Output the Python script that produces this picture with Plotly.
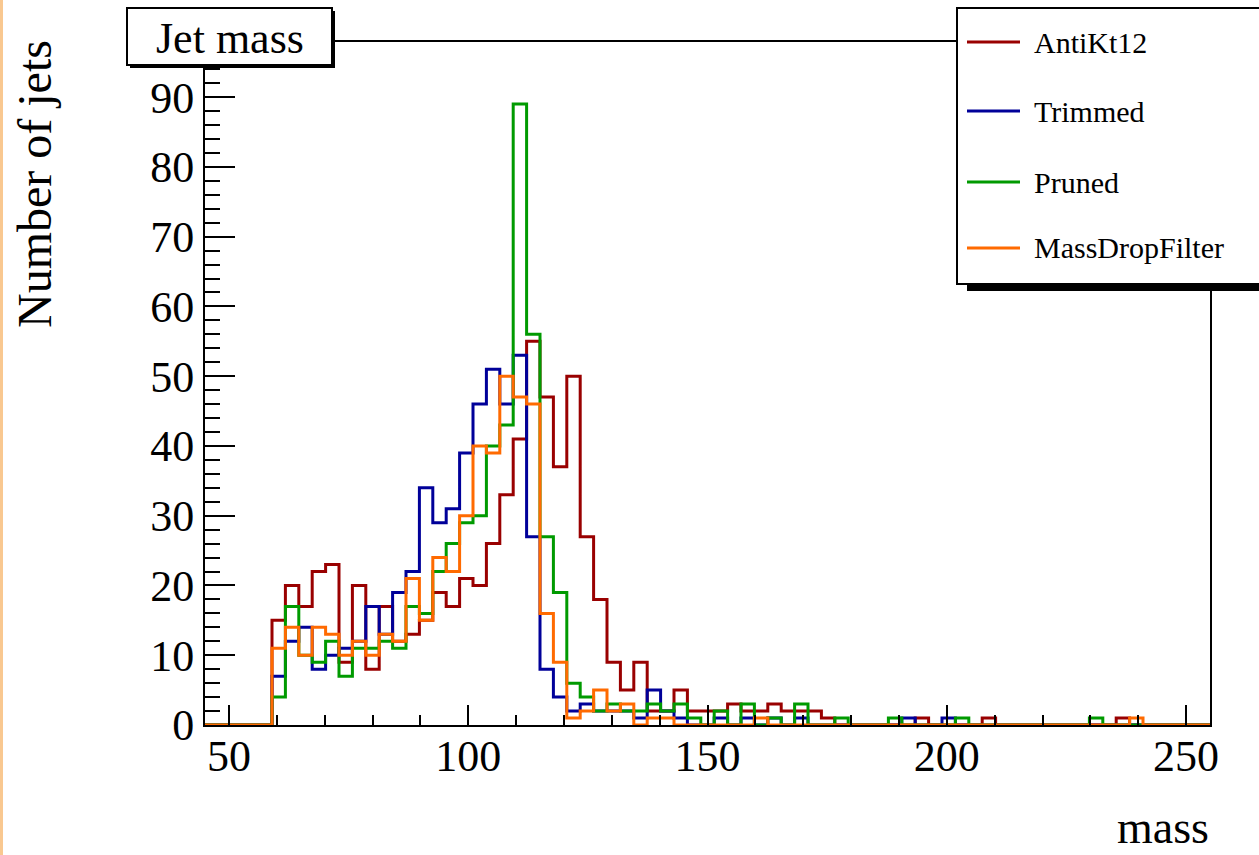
import numpy as np
import plotly.graph_objects as go

# ---------------- data ----------------
bin_lo, bin_hi, n_bins = 45.0, 255.0, 75

antikt12 = [0, 0, 0, 0, 0, 15, 20, 17, 22, 23, 9, 20, 8, 17, 12, 13, 15, 19, 17, 21,
            20, 26, 33, 41, 55, 47, 37, 50, 27, 18, 9, 5, 9, 2, 2, 5, 2, 2, 2, 3,
            2, 2, 3, 2, 2, 2, 1, 0, 0, 0, 0, 0, 0, 1, 0, 0, 0, 0, 1, 0,
            0, 0, 0, 0, 0, 0, 0, 0, 1, 0, 0, 0, 0, 0, 0]
trimmed = [0, 0, 0, 0, 0, 7, 12, 14, 8, 10, 11, 12, 17, 13, 19, 22, 34, 29, 31, 39,
           46, 51, 46, 53, 27, 8, 4, 2, 3, 2, 2, 2, 1, 5, 2, 1, 0, 0, 1, 0,
           1, 0, 1, 0, 1, 0, 0, 0, 0, 0, 0, 0, 1, 0, 0, 1, 0, 0, 0, 0,
           0, 0, 0, 0, 0, 0, 0, 0, 0, 0, 0, 0, 0, 0, 0]
pruned = [0, 0, 0, 0, 0, 4, 17, 10, 9, 12, 7, 11, 11, 12, 11, 17, 16, 22, 26, 29,
          30, 40, 43, 89, 56, 27, 19, 6, 4, 2, 3, 2, 2, 3, 2, 3, 1, 0, 2, 0,
          3, 0, 1, 0, 3, 0, 0, 1, 0, 0, 0, 1, 0, 0, 0, 0, 1, 0, 0, 0,
          0, 0, 0, 0, 0, 0, 1, 0, 0, 0, 0, 0, 0, 0, 0]
massdrop = [0, 0, 0, 0, 0, 11, 14, 10, 14, 13, 10, 12, 10, 13, 12, 21, 15, 24, 22, 30,
            40, 39, 50, 47, 46, 16, 9, 1, 2, 5, 2, 3, 0, 1, 1, 0, 0, 0, 0, 0,
            0, 1, 0, 0, 0, 0, 0, 0, 0, 0, 0, 0, 0, 0, 0, 0, 0, 0, 0, 0,
            0, 0, 0, 0, 0, 0, 0, 0, 0, 1, 0, 0, 0, 0, 0]

series_names = ["AntiKt12", "Trimmed", "Pruned", "MassDropFilter"]
series_values = [antikt12, trimmed, pruned, massdrop]
series_colors = ["#990000", "#000099", "#009a00", "#ff6a00"]

x_ticks = [50, 100, 150, 200, 250]
y_ticks = [0, 10, 20, 30, 40, 50, 60, 70, 80, 90]

# ---------------- layout geometry (pixels) ----------------
W, H = 1259, 855
L, R, T, B = 205, 1210, 42, 725
FONT = "Liberation Serif, Times New Roman, serif"


def xp(px):
    return (px - L) / (R - L)


def yp(py):
    return (B - py) / (B - T)


edges = np.linspace(bin_lo, bin_hi, n_bins + 1)

fig = go.Figure()
for name, vals, col in zip(series_names, series_values, series_colors):
    yv = list(vals) + [vals[-1]]
    fig.add_trace(go.Scatter(
        x=edges, y=yv, mode="lines", name=name,
        line=dict(color=col, width=3, shape="hv"),
        showlegend=False, hoverinfo="skip",
    ))

shapes = []
annotations = []

# left page edge strip
shapes.append(dict(type="rect", xref="paper", yref="paper",
                   x0=xp(0), x1=xp(3), y0=yp(0), y1=yp(H),
                   fillcolor="#f9c890", line=dict(width=0), layer="above"))

# title box with shadow
shapes.append(dict(type="rect", xref="paper", yref="paper",
                   x0=xp(130), x1=xp(335), y0=yp(11), y1=yp(68),
                   fillcolor="black", line=dict(width=0), layer="above"))
shapes.append(dict(type="rect", xref="paper", yref="paper",
                   x0=xp(127), x1=xp(332), y0=yp(8), y1=yp(65),
                   fillcolor="white", line=dict(color="black", width=2), layer="above"))
annotations.append(dict(text="Jet mass", xref="paper", yref="paper",
                        x=xp(229.5), y=yp(38), xanchor="center", yanchor="middle",
                        showarrow=False, font=dict(family=FONT, size=44, color="black")))

# legend box with shadow
shapes.append(dict(type="rect", xref="paper", yref="paper",
                   x0=xp(967), x1=xp(1275), y0=yp(16), y1=yp(291),
                   fillcolor="black", line=dict(width=0), layer="above"))
shapes.append(dict(type="rect", xref="paper", yref="paper",
                   x0=xp(957), x1=xp(1265), y0=yp(8), y1=yp(284),
                   fillcolor="white", line=dict(color="black", width=2), layer="above"))
leg_y = [42, 111, 182, 248]
for name, col, ly in zip(series_names, series_colors, leg_y):
    shapes.append(dict(type="line", xref="paper", yref="paper",
                       x0=xp(967), x1=xp(1020), y0=yp(ly), y1=yp(ly),
                       line=dict(color=col, width=3), layer="above"))
    annotations.append(dict(text=name, xref="paper", yref="paper",
                            x=xp(1032), y=yp(ly), xanchor="left", yanchor="middle",
                            showarrow=False, font=dict(family=FONT, size=30, color="black")))

# axis titles
annotations.append(dict(text="Number of jets", xref="paper", yref="paper",
                        x=xp(34), y=yp(38), xanchor="center", yanchor="top",
                        textangle=-90, showarrow=False,
                        font=dict(family=FONT, size=48, color="black")))
annotations.append(dict(text="mass", xref="paper", yref="paper",
                        x=xp(1211), y=yp(855), xanchor="right", yanchor="bottom",
                        showarrow=False, font=dict(family=FONT, size=46, color="black")))

fig.update_layout(
    width=W, height=H, autosize=False,
    margin=dict(l=L, r=W - R, t=T, b=H - B, pad=0),
    paper_bgcolor="white", plot_bgcolor="white",
    shapes=shapes, annotations=annotations,
    showlegend=False,
    font=dict(family=FONT, color="black"),
)
fig.update_xaxes(
    range=[bin_lo, bin_hi], showgrid=False, zeroline=False,
    showline=True, linecolor="black", linewidth=2, mirror=True,
    ticks="inside", ticklen=20, tickwidth=1.5, tickcolor="black",
    tickvals=x_ticks, ticktext=[str(v) for v in x_ticks],
    ticklabelstandoff=-9,
    minor=dict(ticks="inside", ticklen=10, tickwidth=1.5, tickcolor="black", dtick=10, tick0=0),
    tickfont=dict(family=FONT, size=44, color="black"),
)
fig.update_yaxes(
    range=[0, 97.9], showgrid=False, zeroline=False,
    showline=True, linecolor="black", linewidth=2, mirror=True,
    ticks="inside", ticklen=30, tickwidth=1.5, tickcolor="black",
    tickvals=y_ticks, ticktext=[str(v) for v in y_ticks],
    minor=dict(ticks="inside", ticklen=15, tickwidth=1.5, tickcolor="black", dtick=2, tick0=0),
    tickfont=dict(family=FONT, size=44, color="black"),
)

fig.write_html("out.html", config={"displayModeBar": False})
